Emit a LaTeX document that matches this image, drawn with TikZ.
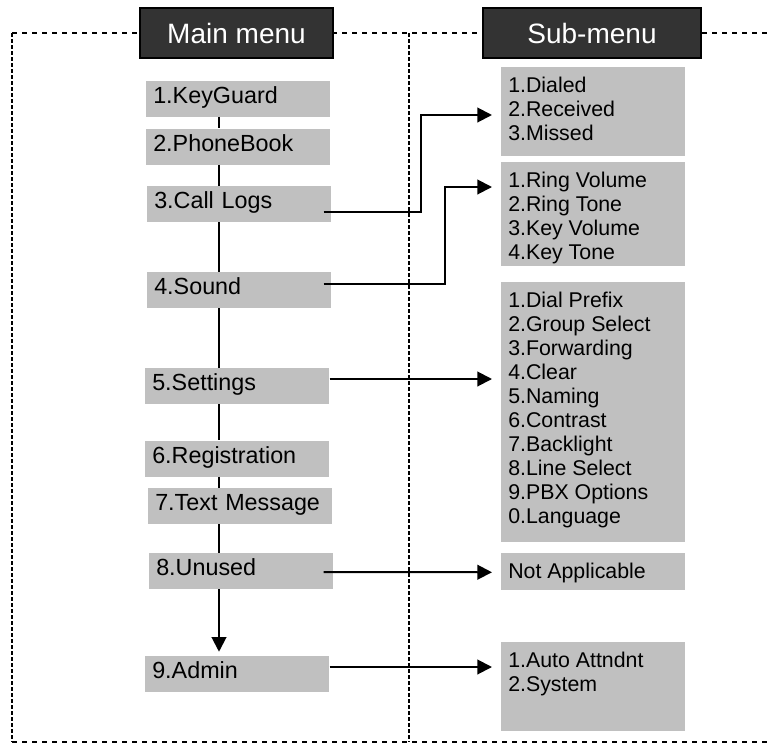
\documentclass[tikz,border=0pt]{standalone}
\usepackage{fontspec}
\setmainfont{Liberation Sans}
\definecolor{menugray}{RGB}{192,192,192}
\definecolor{headdark}{RGB}{51,51,51}
\usetikzlibrary{
  arrows.meta,     % filled triangle tips
  calc             % shifted start and end points
}
\tikzset{
  x=0.75pt, y=-0.75pt,   % one unit is one pixel of the sketch
  head/.style = {
    draw=black, line width=1.2pt, fill=headdark, text=white,
    minimum height=37.5pt, inner sep=0pt,
    font=\fontsize{21pt}{25pt}\selectfont
  },
  mitem/.style = {
    fill=menugray, anchor=west,
    text width=127.5pt, inner xsep=5.25pt, inner ysep=0pt,
    minimum height=27pt, align=left,
    text height=0.95em, text depth=0.25em,
    font=\fontsize{17.5pt}{21pt}\selectfont
  },
  sitem/.style = {
    fill=menugray, anchor=north west,
    inner xsep=5.25pt, inner ysep=7.5pt,
    font=\fontsize{16pt}{18pt}\selectfont
  },
  frameh/.style = {line width=1.6pt, dash pattern=on 3.75pt off 3.75pt},
  framev/.style = {line width=1.2pt, dash pattern=on 3pt off 1.5pt},
  spineline/.style = {line width=1.5pt},
  link/.style = {line width=1.5pt, -{Triangle[length=11pt,width=11pt]}},
}
% text of a sub-menu box, top aligned in a box of fixed height
\newcommand{\sublist}[2]{\parbox[t][#1][t]{127.5pt}{\raggedright #2}}

\begin{document}
\begin{tikzpicture}
\useasboundingbox (0,0) rectangle (769,747);

% dashed frame
\draw[frameh] (12,33) -- (769,33);
\draw[frameh] (12,742) -- (769,742);
\draw[framev] (12,33) -- (12,742);
\draw[framev] (409,33) -- (409,742);

% headers
\node[head, minimum width=144.75pt] (mainhead) at (236.5,33) {Main menu};
\node[head, minimum width=163.5pt] (subhead) at (592,33) {Sub-menu};

% main menu
\node[mitem] (kguard) at (146,98.5) {1.KeyGuard};
\node[mitem] (pbook) at (146,146.5) {2.PhoneBook};
\node[mitem] (logs) at (147,204) {3.Call Logs};
\node[mitem] (sound) at (147,290) {4.Sound};
\node[mitem] (settings) at (145,386) {5.Settings};
\node[mitem] (regist) at (145,458.5) {6.Registration};
\node[mitem] (textmsg) at (148,506) {7.Text Message};
\node[mitem] (unused) at (149,571) {8.Unused};
\node[mitem] (admin) at (145,674) {9.Admin};

% sub-menus
\node[sitem] (dialed) at (501,67) {\sublist{51.75pt}{1.Dialed\\2.Received\\3.Missed}};
\node[sitem] (ring) at (501,162) {\sublist{63pt}{1.Ring Volume\\2.Ring Tone\\3.Key Volume\\4.Key Tone}};
\node[sitem] (prefix) at (501,282) {\sublist{180pt}{1.Dial Prefix\\2.Group Select\\3.Forwarding\\4.Clear\\5.Naming\\6.Contrast\\7.Backlight\\8.Line Select\\9.PBX Options\\0.Language}};
\node[sitem] (notapp) at (501,553) {\sublist{12.75pt}{Not Applicable}};
\node[sitem] (attnd) at (501,642) {\sublist{51.75pt}{1.Auto Attndnt\\2.System}};

% spine of the main menu
\coordinate (spine) at (219,0);
\foreach \a/\b in {kguard/pbook, pbook/logs, logs/sound, sound/settings,
                   settings/regist, regist/textmsg, textmsg/unused}
  \draw[spineline] (\a.south -| spine) -- (\b.north -| spine);
\draw[link, shorten >=3pt] (unused.south -| spine) -- (admin.north -| spine);

% links to the sub-menus
\draw[link] ($(logs.east)+(-8,8)$) -- ++(97,0) |- ($(dialed.north west)+(-9,48)$);
\draw[link] ($(sound.east)+(-8,-6)$) -- ++(121,0) |- ($(ring.north west)+(-9,25)$);
\draw[link] ($(settings.east)+(0,-7)$) -- ($(prefix.north west)+(-9,97)$);
\draw[link] ($(unused.east)+(-10,1)$) -- ($(notapp.west)+(-9,0.5)$);
\draw[link] ($(admin.east)+(0,-7)$) -- ($(attnd.north west)+(-9,25)$);
\end{tikzpicture}
\end{document}
